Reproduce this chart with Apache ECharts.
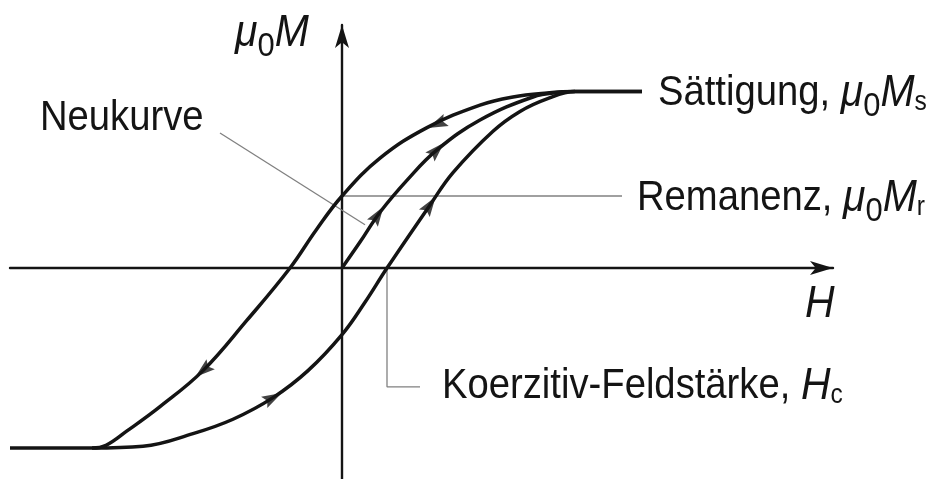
<!DOCTYPE html>
<html>
<head>
<meta charset="utf-8">
<script src="https://cdn.jsdelivr.net/npm/echarts@6/dist/echarts.min.js"></script>
<style>
  html, body { margin: 0; padding: 0; background: #ffffff; }
  #chart { width: 939px; height: 479px; }
</style>
</head>
<body>
<div id="chart"></div>
<script>
// Hysteresis loop of a ferromagnet: magnetisation mu0*M against field H.
// H in arbitrary units, M normalised so that saturation is close to 1.

// Descending branch (from +saturation back to -saturation), listed by increasing H
const descendingBranch = [
  [-6.64, -1.00], [-5.00, -1.00], [-4.72, -0.985], [-4.30, -0.905], [-3.64, -0.77],
  [-2.78, -0.57], [-1.90, -0.29], [-1.04, 0.00], [-0.52, 0.21], [0.00, 0.40],
  [0.76, 0.61], [1.70, 0.78], [2.76, 0.905], [3.42, 0.95], [4.10, 0.972],
  [4.66, 0.98], [6.00, 0.98]
];
// Ascending branch (from -saturation up to +saturation)
const ascendingBranch = [
  [-5.00, -1.00], [-3.98, -0.99], [-2.98, -0.92], [-2.18, -0.84], [-1.38, -0.72],
  [-0.68, -0.57], [0.00, -0.37], [0.46, -0.19], [0.90, 0.00], [1.76, 0.35],
  [2.22, 0.53], [3.02, 0.76], [3.56, 0.87], [4.10, 0.94], [4.66, 0.98], [6.00, 0.98]
];
// Initial magnetisation curve (Neukurve), starting at the origin
const virginCurve = [
  [0.00, 0.00], [0.36, 0.144], [0.76, 0.31], [1.32, 0.494], [1.90, 0.656],
  [2.76, 0.822], [3.82, 0.95], [4.36, 0.976], [4.66, 0.98]
];

// Characteristic values
const remanence = 0.40;        // mu0*Mr, descending branch at H = 0
const coercivity = 0.90;       // Hc, ascending branch at M = 0
const remanenceLineEnd = 5.6;  // H where the Remanenz leader stops
const coercivityLeader = [[coercivity, 0], [coercivity, -0.66], [1.56, -0.66]];
const virginLeader = [[-2.44, 0.75], [0.46, 0.24]];

// Direction arrows drawn along the curves: which curve, where, direction of travel
const curveArrows = [
  { curve: 'descending', at: [1.90, 0.80], reverse: true },
  { curve: 'descending', at: [-2.78, -0.57], reverse: true },
  { curve: 'ascending', at: [-1.38, -0.72], reverse: false },
  { curve: 'ascending', at: [1.76, 0.35], reverse: false },
  { curve: 'virgin', at: [0.72, 0.295], reverse: false },
  { curve: 'virgin', at: [1.90, 0.656], reverse: false }
];

const curves = { descending: descendingBranch, ascending: ascendingBranch, virgin: virginCurve };

const FONT = "'Liberation Sans', Arial, sans-serif";
const INK = '#141414';
const LEADER = '#808080';
const TEXT_SQUEEZE = 0.91;   // condensed look for the labels

const chart = echarts.init(document.getElementById('chart'), null, { renderer: 'canvas' });

const axisCommon = {
  type: 'value',
  axisTick: { show: false },
  axisLabel: { show: false },
  splitLine: { show: false },
  axisLine: {
    show: true,
    onZero: true,
    symbol: ['none', 'arrow'],
    symbolSize: [10.5, 23],
    lineStyle: { color: INK, width: 2.4 }
  }
};

function curveSeries(name, data) {
  return {
    name: name,
    type: 'line',
    data: data,
    smooth: 0.4,
    showSymbol: false,
    symbol: 'none',
    z: 5,
    lineStyle: { color: INK, width: 3.5 },
    emphasis: { disabled: true }
  };
}

function leaderSeries(name, data) {
  return {
    name: name,
    type: 'line',
    data: data,
    showSymbol: false,
    symbol: 'none',
    z: 3,
    lineStyle: { color: LEADER, width: 1.3 },
    emphasis: { disabled: true }
  };
}

const richText = {
  n: { fontFamily: FONT, fontSize: 42, color: INK },
  mu: { fontFamily: FONT, fontSize: 45, fontStyle: 'italic', color: INK },
  it: { fontFamily: FONT, fontSize: 45, fontStyle: 'italic', color: INK },
  z: { fontFamily: FONT, fontSize: 34, color: INK, padding: [28, 0, 0, 0] },
  s: { fontFamily: FONT, fontSize: 27, color: INK, padding: [20, 0, 0, 0] }
};

function textEl(x, y, text) {
  return {
    type: 'text',
    x: x,
    y: y,
    scaleX: TEXT_SQUEEZE,
    silent: true,
    style: {
      text: text,
      rich: richText,
      fontFamily: FONT,
      fontSize: 42,
      fill: INK,
      align: 'left',
      verticalAlign: 'middle'
    }
  };
}

const option = {
  animation: false,
  backgroundColor: '#ffffff',
  grid: { left: 10, right: 106, top: 25, bottom: 0, containLabel: false },
  xAxis: Object.assign({}, axisCommon, { min: -6.64, max: 9.82 }),
  yAxis: Object.assign({}, axisCommon, { min: -1.172, max: 1.35 }),
  series: [
    leaderSeries('Remanenz', [[0, remanence], [remanenceLineEnd, remanence]]),
    leaderSeries('Koerzitivfeldstärke', coercivityLeader),
    leaderSeries('Neukurve-Hinweis', virginLeader),
    curveSeries('absteigender Ast', descendingBranch),
    curveSeries('aufsteigender Ast', ascendingBranch),
    curveSeries('Neukurve', virginCurve),
    {
      name: 'Richtung',
      type: 'scatter',
      z: 6,
      symbol: 'path://M0,-9 L5.5,8 L0,5 L-5.5,8 Z',
      symbolSize: [13, 20],
      itemStyle: { color: INK },
      emphasis: { disabled: true },
      data: curveArrows.map(a => ({ value: a.at }))
    }
  ],
  graphic: [
    textEl(235, 33, '{mu|μ}{z|0}{it|M}'),
    textEl(40, 118, '{n|Neukurve}'),
    textEl(658, 93, '{n|Sättigung, }{mu|μ}{z|0}{it|M}{s|s}'),
    textEl(637, 198, '{n|Remanenz, }{mu|μ}{z|0}{it|M}{s|r}'),
    textEl(805, 304, '{it|H}'),
    textEl(442, 386, '{n|Koerzitiv-Feldstärke, }{it|H}{s|c}')
  ]
};

chart.setOption(option);

// Orient each direction arrow along its curve using the pixel positions of the
// neighbouring data points, so the arrow follows the drawn slope.
function arrowRotation(arrow) {
  const data = curves[arrow.curve];
  const h = arrow.at[0];
  let i = 0;
  while (i < data.length - 2 && data[i + 1][0] < h) i++;
  const p0 = chart.convertToPixel({ gridIndex: 0 }, data[i]);
  const p1 = chart.convertToPixel({ gridIndex: 0 }, data[i + 1]);
  let dx = p1[0] - p0[0];
  let dy = p1[1] - p0[1];
  if (arrow.reverse) { dx = -dx; dy = -dy; }
  return Math.atan2(-dx, -dy) * 180 / Math.PI;
}

chart.setOption({
  series: [{}, {}, {}, {}, {}, {}, {
    data: curveArrows.map(a => ({ value: a.at, symbolRotate: arrowRotation(a) }))
  }]
});
</script>
</body>
</html>
